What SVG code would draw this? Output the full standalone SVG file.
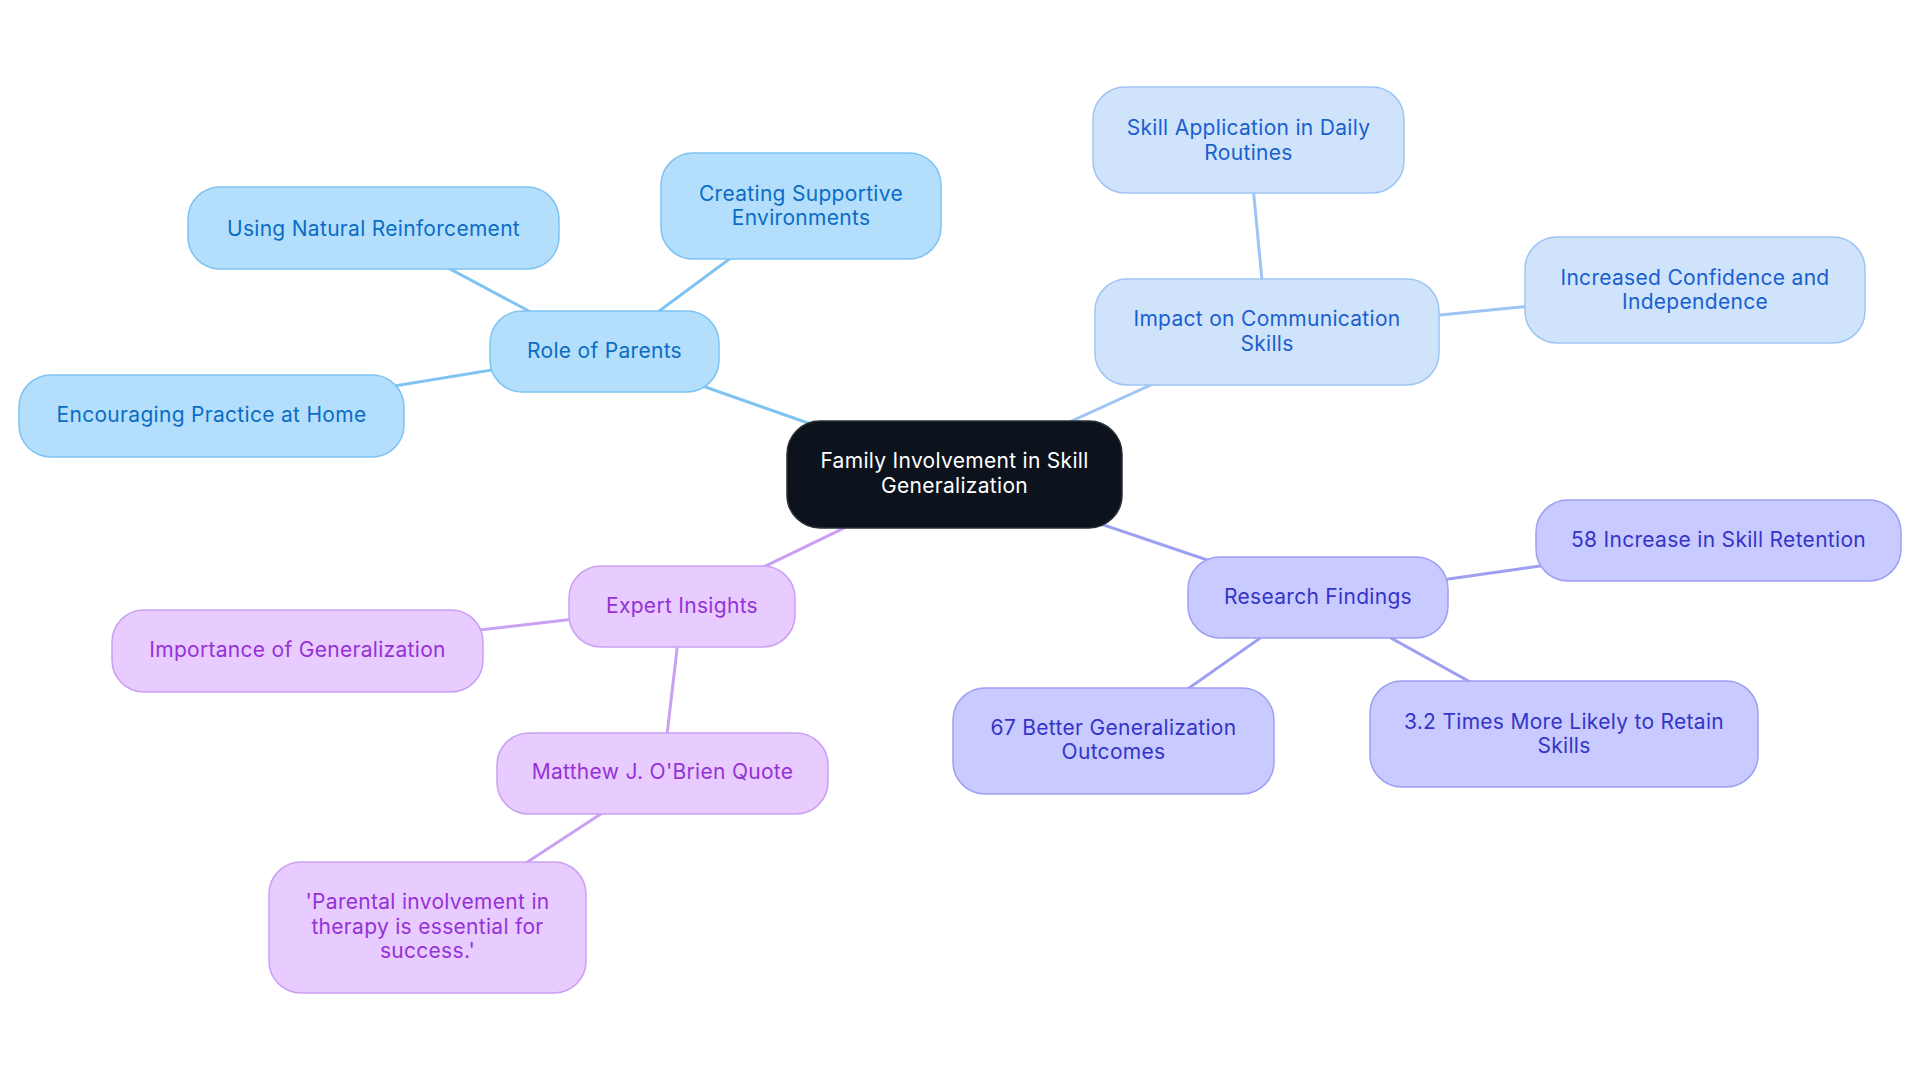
<svg xmlns="http://www.w3.org/2000/svg" width="1920" height="1083" viewBox="0 0 1920 1083">
<style>
text{font-family:Inter,"Noto Sans","Liberation Sans",sans-serif;font-size:21px;letter-spacing:0.3px;text-anchor:middle}
.n rect{stroke-width:1.5}
.root rect{fill:#0d131c;stroke:#2a2f36}
.root text{fill:#ffffff}
.s0 rect{fill:#b3dffd;stroke:#7fc3f1}
.s0 text{fill:#0b6cc5}
.s1 rect{fill:#cfe3fb;stroke:#9ec5f4}
.s1 text{fill:#1a5fd0}
.s2 rect{fill:#c9caff;stroke:#9d9ff3}
.s2 text{fill:#3434c8}
.s3 rect{fill:#e8cbff;stroke:#caa0f3}
.s3 text{fill:#9532d6}
.e{stroke-width:3;fill:none;stroke-linecap:round}
.e0{stroke:#7fc3f1}
.e1{stroke:#9ec5f4}
.e2{stroke:#9d9ff3}
.e3{stroke:#caa0f3}
</style>
<rect x="0" y="0" width="1920" height="1083" fill="#ffffff"/>
<g id="connectors">
<line class="e e0" x1="954.5" y1="474.5" x2="604.5" y2="351.5"/>
<line class="e e0" x1="604.5" y1="351.5" x2="373.5" y2="228"/>
<line class="e e0" x1="604.5" y1="351.5" x2="801" y2="206"/>
<line class="e e0" x1="604.5" y1="351.5" x2="211.5" y2="416"/>
<line class="e e1" x1="954.5" y1="474.5" x2="1267" y2="332"/>
<line class="e e1" x1="1267" y1="332" x2="1248.5" y2="140"/>
<line class="e e1" x1="1267" y1="332" x2="1695" y2="290"/>
<line class="e e2" x1="954.5" y1="474.5" x2="1318" y2="597.5"/>
<line class="e e2" x1="1318" y1="597.5" x2="1718.5" y2="540.5"/>
<line class="e e2" x1="1318" y1="597.5" x2="1113.5" y2="741"/>
<line class="e e2" x1="1318" y1="597.5" x2="1564" y2="734"/>
<line class="e e3" x1="954.5" y1="474.5" x2="682" y2="606.5"/>
<line class="e e3" x1="682" y1="606.5" x2="297.5" y2="651"/>
<line class="e e3" x1="682" y1="606.5" x2="662.5" y2="773.5"/>
<line class="e e3" x1="662.5" y1="773.5" x2="427.5" y2="927.5"/>
</g>
<g id="root" class="n root">
<rect x="787" y="421" width="335" height="107" rx="33"/>
<text x="954.5" y="468">Family Involvement in Skill</text>
<text x="954.5" y="493">Generalization</text>
</g>
<g id="role-of-parents" class="n s0">
<rect x="490" y="311" width="229" height="81" rx="32"/>
<text x="604.5" y="358">Role of Parents</text>
</g>
<g id="using-natural-reinforcement" class="n s0">
<rect x="188" y="187" width="371" height="82" rx="32"/>
<text x="373.5" y="236">Using Natural Reinforcement</text>
</g>
<g id="creating-supportive-environments" class="n s0">
<rect x="661" y="153" width="280" height="106" rx="32"/>
<text x="801" y="201">Creating Supportive</text>
<text x="801" y="225">Environments</text>
</g>
<g id="encouraging-practice" class="n s0">
<rect x="19" y="375" width="385" height="82" rx="32"/>
<text x="211.5" y="422">Encouraging Practice at Home</text>
</g>
<g id="impact-communication" class="n s1">
<rect x="1095" y="279" width="344" height="106" rx="32"/>
<text x="1267" y="326">Impact on Communication</text>
<text x="1267" y="351">Skills</text>
</g>
<g id="skill-application" class="n s1">
<rect x="1093" y="87" width="311" height="106" rx="32"/>
<text x="1248.5" y="135">Skill Application in Daily</text>
<text x="1248.5" y="160">Routines</text>
</g>
<g id="increased-confidence" class="n s1">
<rect x="1525" y="237" width="340" height="106" rx="32"/>
<text x="1695" y="285">Increased Confidence and</text>
<text x="1695" y="309">Independence</text>
</g>
<g id="research-findings" class="n s2">
<rect x="1188" y="557" width="260" height="81" rx="32"/>
<text x="1318" y="604">Research Findings</text>
</g>
<g id="increase-retention" class="n s2">
<rect x="1536" y="500" width="365" height="81" rx="32"/>
<text x="1718.5" y="547">58 Increase in Skill Retention</text>
</g>
<g id="better-generalization" class="n s2">
<rect x="953" y="688" width="321" height="106" rx="32"/>
<text x="1113.5" y="735">67 Better Generalization</text>
<text x="1113.5" y="759">Outcomes</text>
</g>
<g id="times-more-likely" class="n s2">
<rect x="1370" y="681" width="388" height="106" rx="32"/>
<text x="1564" y="729">3.2 Times More Likely to Retain</text>
<text x="1564" y="753">Skills</text>
</g>
<g id="expert-insights" class="n s3">
<rect x="569" y="566" width="226" height="81" rx="32"/>
<text x="682" y="613">Expert Insights</text>
</g>
<g id="importance-generalization" class="n s3">
<rect x="112" y="610" width="371" height="82" rx="32"/>
<text x="297.5" y="657">Importance of Generalization</text>
</g>
<g id="obrien-quote" class="n s3">
<rect x="497" y="733" width="331" height="81" rx="32"/>
<text x="662.5" y="779">Matthew J. O'Brien Quote</text>
</g>
<g id="quote-text" class="n s3">
<rect x="269" y="862" width="317" height="131" rx="32"/>
<text x="427.5" y="909">'Parental involvement in</text>
<text x="427.5" y="934">therapy is essential for</text>
<text x="427.5" y="958">success.'</text>
</g>
</svg>
